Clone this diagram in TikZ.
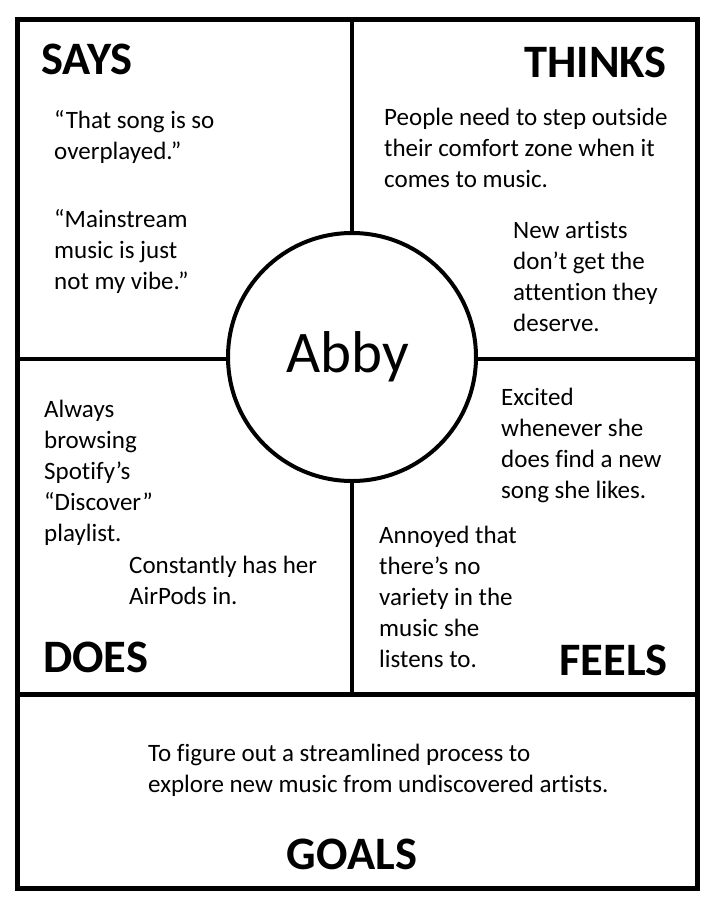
\documentclass[tikz,border=0pt]{standalone}
\usepackage{fontspec}
\setmainfont{Carlito}[Ligatures=NoCommon]
\newcommand{\mlines}[1]{\begin{tabular}[t]{@{}l@{}}#1\end{tabular}}
\tikzset{
  bodytext/.style={font=\fontsize{25}{31}\selectfont, inner sep=0pt, anchor=base west},
  headtext/.style={font=\bfseries\fontsize{46.5}{52}\selectfont, inner sep=0pt},
  outerline/.style={line width=5pt, draw=black},
  divline/.style={line width=4pt, draw=black},
  persona/.style={circle, draw=black, line width=4pt, fill=white, minimum size=248pt, inner sep=0pt, font=\fontsize{59}{66}\selectfont}
}
\begin{document}
\begin{tikzpicture}[x=1pt,y=-1pt]
\useasboundingbox (0,0) rectangle (711,911);
% frame and dividers
\draw[outerline] (17,19) rectangle (697,888);
\coordinate (vtop) at (352,19);
\coordinate (vbot) at (352,694);
\coordinate (hl) at (17,359);
\coordinate (hr) at (697,359);
\coordinate (gl) at (17,694);
\coordinate (gr) at (697,694);
\draw[divline] (vtop) -- (vbot);
\draw[divline] (hl) -- (hr);
\draw[outerline] (gl) -- (gr);
% centre
\node[persona] (abby) at (352,357) {\hspace*{-8pt}Abby};
% headings
\node[headtext, anchor=base west] (says) at (41,74) {SAYS};
\node[headtext, anchor=base east] (thinks) at (667,77) {THINKS};
\node[headtext, anchor=base west] (does) at (43,672) {DOES};
\node[headtext, anchor=base east] (feels) at (668,675) {FEELS};
\node[headtext, anchor=base] (goals) at (352,869) {GOALS};
% says
\node[bodytext] (s1) at (54,128) {\mlines{“That song is so\\overplayed.”}};
\node[bodytext] (s2) at (54,227) {\mlines{“Mainstream\\music is just\\not my vibe.”}};
% thinks
\node[bodytext] (t1) at (384,125) {\mlines{People need to step outside\\their comfort zone when it\\comes to music.}};
\node[bodytext] (t2) at (513,238) {\mlines{New artists\\don’t get the\\attention they\\deserve.}};
% feels
\node[bodytext] (f1) at (501,405) {\mlines{Excited\\whenever she\\does find a new\\song she likes.}};
\node[bodytext] (f2) at (379,543) {\mlines{Annoyed that\\there’s no\\variety in the\\music she\\listens to.}};
% does
\node[bodytext] (d1) at (44,417) {\mlines{Always\\browsing\\Spotify’s\\“Discover”\\playlist.}};
\node[bodytext] (d2) at (129,573) {\mlines{Constantly has her\\AirPods in.}};
% goals
\node[bodytext] (g1) at (148,761) {\mlines{To figure out a streamlined process to\\explore new music from undiscovered artists.}};
\end{tikzpicture}
\end{document}
